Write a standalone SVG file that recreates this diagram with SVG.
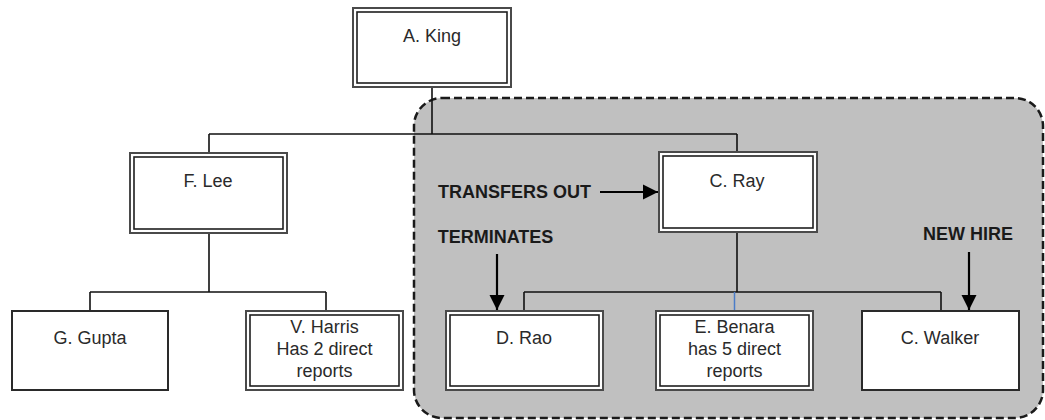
<svg xmlns="http://www.w3.org/2000/svg" width="1045" height="420" viewBox="0 0 1045 420">
<style>
.bg{fill:#ffffff}
.region{fill:#c0c0c0;stroke:#1a1a1a;stroke-width:2.5;stroke-dasharray:8 4}
.box{fill:#ffffff;stroke:#4a4a4a;stroke-width:2}
.inner{fill:none;stroke:#1e1e1e;stroke-width:1.6}
.single{fill:#ffffff;stroke:#2a2a2a;stroke-width:2}
.lbl{font-family:"Liberation Sans",Arial,sans-serif;font-size:18px;fill:#2a2a2a;text-anchor:middle}
.note{font-family:"Liberation Sans",Arial,sans-serif;font-size:18px;font-weight:bold;fill:#1a1a1a;text-anchor:middle}
.conn{fill:none;stroke:#111;stroke-width:1.6}
.arrow{fill:none;stroke:#000;stroke-width:2.2}
</style>
<defs>
<marker id="ah" viewBox="0 0 10 10" refX="10" refY="5" markerWidth="7" markerHeight="7" markerUnits="strokeWidth" orient="auto">
<path d="M0,0 L10,5 L0,10 Z" fill="#000"/>
</marker>
</defs>
<rect class="bg" x="0" y="0" width="1045" height="420"/>
<g id="region">
<rect class="region" x="414" y="98" width="629" height="320" rx="28" ry="28"/>
</g>
<g id="connectors">
<path class="conn" d="M432,87 V134 M209,134 H737 M209,134 V153 M737,134 V152"/>
<path class="conn" d="M209,233 V292 M90,292 H326 M90,292 V311 M326,292 V311"/>
<path class="conn" d="M737,232 V292 M524,292 H941 M524,292 V311 M941,292 V311"/>
<path d="M734.5,292 V311" fill="none" stroke="#4a7cc8" stroke-width="1.5"/>
<path class="arrow" d="M600,192 H658" marker-end="url(#ah)"/>
<path class="arrow" d="M497,254 V310" marker-end="url(#ah)"/>
<path class="arrow" d="M969,252 V310" marker-end="url(#ah)"/>
</g>
<g id="node-king">
<rect class="box" x="353" y="8" width="158" height="79"/>
<rect class="inner" x="357" y="12" width="150" height="71"/>
<text class="lbl" x="432" y="42">A. King</text>
</g>
<g id="node-lee">
<rect class="box" x="130" y="153" width="157" height="80"/>
<rect class="inner" x="134" y="157" width="149" height="72"/>
<text class="lbl" x="208" y="187">F. Lee</text>
</g>
<g id="node-ray">
<rect class="box" x="659" y="152" width="158" height="80"/>
<rect class="inner" x="663" y="156" width="150" height="72"/>
<text class="lbl" x="737" y="187">C. Ray</text>
</g>
<g id="node-gupta">
<rect class="single" x="12" y="311" width="156" height="79"/>
<text class="lbl" x="90" y="344">G. Gupta</text>
</g>
<g id="node-harris">
<rect class="box" x="246" y="311" width="157" height="79"/>
<rect class="inner" x="250" y="315" width="149" height="71"/>
<text class="lbl" x="324.5" y="333">V. Harris</text>
<text class="lbl" x="324.5" y="355">Has 2 direct</text>
<text class="lbl" x="324.5" y="377">reports</text>
</g>
<g id="node-rao">
<rect class="box" x="446" y="311" width="157" height="79"/>
<rect class="inner" x="450" y="315" width="149" height="71"/>
<text class="lbl" x="524" y="344">D. Rao</text>
</g>
<g id="node-benara">
<rect class="box" x="656" y="311" width="157" height="79"/>
<rect class="inner" x="660" y="315" width="149" height="71"/>
<text class="lbl" x="734.5" y="333">E. Benara</text>
<text class="lbl" x="734.5" y="355">has 5 direct</text>
<text class="lbl" x="734.5" y="377">reports</text>
</g>
<g id="node-walker">
<rect class="single" x="862" y="311" width="157" height="79"/>
<text class="lbl" x="940" y="344">C. Walker</text>
</g>
<g id="labels">
<text class="note" x="514.5" y="198">TRANSFERS OUT</text>
<text class="note" x="495.5" y="243">TERMINATES</text>
<text class="note" x="968" y="240">NEW HIRE</text>
</g>
</svg>
